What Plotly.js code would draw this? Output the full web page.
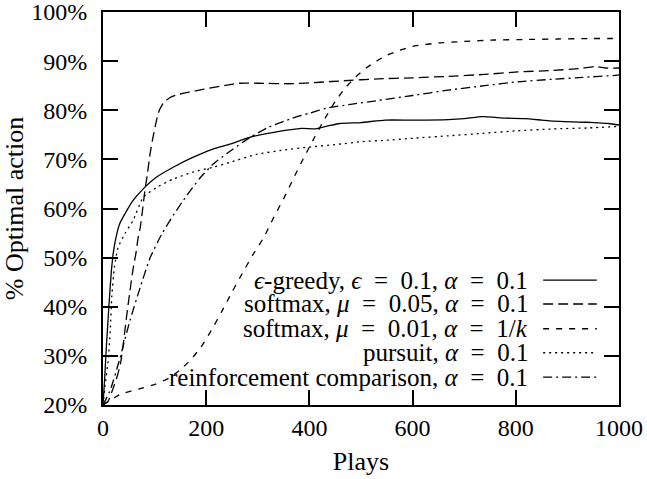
<!DOCTYPE html>
<html>
<head>
<meta charset="utf-8">
<script src="https://cdn.plot.ly/plotly-3.0.1.min.js"></script>
<style>html,body{margin:0;padding:0;background:#fff;}#chart{width:647px;height:479px;}</style>
</head>
<body>
<div id="chart"></div>
<script>
// ---- data ----
const greedyX = [0,3,6,9,12,16,20,25,32,43,58,78,104,136,174,213,246,284,331,385,412,440,459,500,547,600,669,700,736,780,818,850,872,920,953,980,1000];
const greedyY = [20,25,31,36,41,47,51,54,56.8,59,61.6,64,66.4,68.4,70.4,72.1,73.1,74.5,75.5,76.3,76.2,76.9,77.3,77.5,78.0,78.0,78.1,78.3,78.7,78.4,78.3,78.0,77.8,77.6,77.5,77.3,77.0];

const soft05X = [0,10,20,28,34,40,46,52,58,64,68,72,77,81,86,91,96,101,106,110,118,130,145,162,196,240,264,300,365,420,466,534,600,669,740,804,870,926,953,975,1000];
const soft05Y = [20,20.8,23.5,26,28.5,33,38.3,43,47.5,51,54,56,60,63.5,67,71,74,76.6,79,80.2,81.6,82.6,83.2,83.6,84.3,85.1,85.5,85.5,85.4,85.7,86.0,86.4,86.6,86.9,87.3,87.8,88.1,88.5,88.9,88.6,88.6];

const soft01X = [0,34,70,101,130,150,170,190,210,230,250,270,290,311,330,350,370,390,410,430,450,470,490,510,530,550,575,600,650,700,760,820,880,940,1000];
const soft01Y = [20,22.2,23.3,24.2,25.6,27.2,29.2,31.8,35.2,39.0,43.0,46.8,50.5,54.0,58.0,62.0,66.3,70.5,74.5,78.3,81.8,84.6,86.8,88.6,90.0,91.2,92.2,93.0,93.7,94.0,94.3,94.4,94.5,94.6,94.6];

const pursuitX = [0,4,10,14,17,22,29,43,58,78,104,136,174,213,246,297,350,399,450,500,550,601,670,736,800,872,940,1000];
const pursuitY = [20,24,29,35,42,48,52,55,57.5,62.3,64.3,66,67.4,68.4,69.4,71.0,71.9,72.5,73.0,73.6,73.9,74.3,74.8,75.3,75.8,76.2,76.4,76.7];

const reinfX = [0,14,33,52,72,91,114,136,162,188,213,240,284,320,365,400,432,480,534,600,669,740,804,870,930,993,1000];
const reinfY = [20,23,29.6,37.1,43.9,49.9,54.8,58.6,62.6,66.2,69.0,71.2,74.4,76.5,78.3,79.4,80.4,81.2,82.0,83.0,84.1,85.0,85.8,86.3,86.7,87.1,87.2];

const seriesLabels = [
  "<i>ϵ</i>-greedy, <i>ϵ</i>\u2002=\u20020.1, <i>α</i>\u2002=\u20020.1",
  "softmax, <i>μ</i>\u2002=\u20020.05, <i>α</i>\u2002=\u20020.1",
  "softmax, <i>μ</i>\u2002=\u20020.01, <i>α</i>\u2002=\u20021/<i>k</i>",
  "pursuit, <i>α</i>\u2002=\u20020.1",
  "reinforcement comparison, <i>α</i>\u2002=\u20020.1"
];
const xTicks = [0,200,400,600,800,1000];
const yTicks = [20,30,40,50,60,70,80,90,100];
const yTickText = ["20%","30%","40%","50%","60%","70%","80%","90%","100%"];

// ---- styles ----
const dashes = ["solid","10px,5px","6px,7px","2px,4px","9px,4px,2px,4px"];
const xs = [greedyX, soft05X, soft01X, pursuitX, reinfX];
const ys = [greedyY, soft05Y, soft01Y, pursuitY, reinfY];
const FONT = "'Liberation Serif', 'Times New Roman', serif";

const traces = xs.map((x,i)=>({
  x: x, y: ys[i], type: "scatter", mode: "lines",
  name: seriesLabels[i], showlegend: false,
  line: {color: "#000", width: 1.3, dash: dashes[i], shape: "spline", smoothing: 0.5}
}));

const rowY = [0.318, 0.257, 0.194, 0.133, 0.071];
const annotations = seriesLabels.map((t,i)=>({
  xref: "paper", yref: "paper", x: 0.8275, y: rowY[i],
  xanchor: "right", yanchor: "middle", text: t, showarrow: false,
  font: {family: FONT, size: 25, color: "#000"}
}));
const shapes = dashes.map((d,i)=>({
  type: "line", xref: "paper", yref: "paper",
  x0: 0.853, x1: 0.957, y0: rowY[i], y1: rowY[i],
  line: {color: "#000", width: 1.3, dash: d}
}));

const axisCommon = {
  showgrid: false, zeroline: false, showline: true, linecolor: "#000", linewidth: 2,
  mirror: "allticks", ticks: "inside", ticklen: 15, tickwidth: 2, tickcolor: "#000",
  ticklabeloverflow: "allow",
  tickfont: {family: FONT, size: 24, color: "#000"}
};

const layout = {
  width: 647, height: 479,
  margin: {l: 103, r: 28, t: 12, b: 74},
  paper_bgcolor: "#fff", plot_bgcolor: "#fff",
  font: {family: FONT, size: 24, color: "#000"},
  xaxis: Object.assign({}, axisCommon, {
    range: [0,1000], tickvals: xTicks, ticktext: xTicks.map(String),
    title: {text: "Plays", font: {family: FONT, size: 26, color: "#000"}, standoff: 12}
  }),
  yaxis: Object.assign({}, axisCommon, {
    range: [20,100], tickvals: yTicks, ticktext: yTickText, ticklabelstandoff: 9,
    title: {text: "% Optimal action", font: {family: FONT, size: 26, color: "#000"}, standoff: 2}
  }),
  annotations: annotations,
  shapes: shapes
};

Plotly.newPlot("chart", traces, layout, {displayModeBar: false, staticPlot: true});
</script>
</body>
</html>
